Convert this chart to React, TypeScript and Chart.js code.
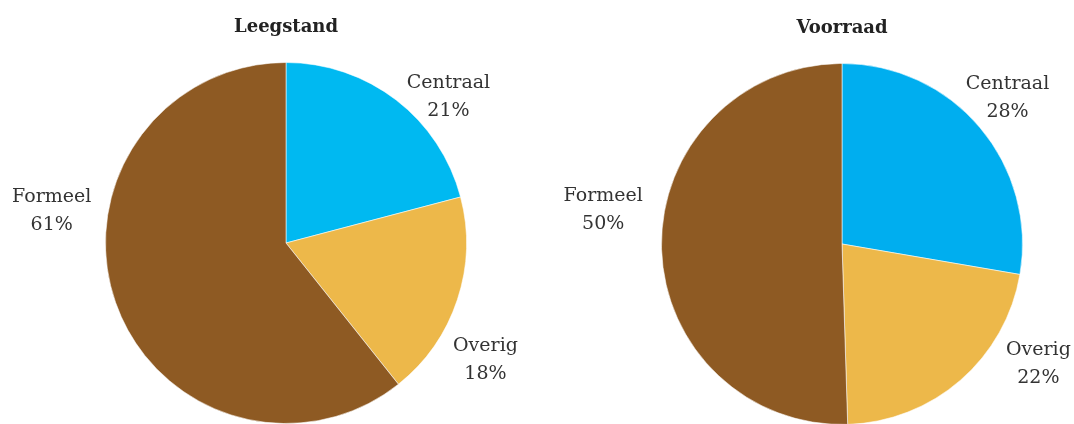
import React, { useEffect, useRef } from "react";
import { Chart, registerables } from "chart.js";

Chart.register(...registerables);

const categories = ["Centraal", "Overig", "Formeel"];
const leegstandValues = [20.9, 18.4, 60.7];
const leegstandLabels = ["21%", "18%", "61%"];
const voorraadValues = [27.7, 21.8, 50.5];
const voorraadLabels = ["28%", "22%", "50%"];

const FONT = "'DejaVu Serif', serif";

const pieLabelsPlugin = {
  id: "pieLabels",
  afterDatasetsDraw(chart: any, _args: any, opts: any) {
    const meta = chart.getDatasetMeta(0);
    const ctx = chart.ctx;
    ctx.save();
    ctx.font = `${opts.size}px ${FONT}`;
    ctx.fillStyle = opts.color;
    ctx.textAlign = "center";
    ctx.textBaseline = "middle";
    meta.data.forEach((arc: any, i: number) => {
      const p = arc.getProps(["x", "y", "outerRadius"], true);
      const [fx, fy] = opts.offsets[i];
      const cx = p.x + fx * p.outerRadius;
      const cy = p.y + fy * p.outerRadius;
      ctx.fillText(chart.data.labels[i], cx, cy - opts.lineGap / 2);
      ctx.fillText(opts.texts[i], cx, cy + opts.lineGap / 2);
    });
    ctx.restore();
  },
};

function PieChart(props: {
  title: string;
  values: number[];
  texts: string[];
  colors: string[];
  offsets: number[][];
  left: number;
  width: number;
  height: number;
  titleTop: number;
}) {
  const ref = useRef<HTMLCanvasElement | null>(null);
  useEffect(() => {
    if (!ref.current) return;
    const chart = new Chart(ref.current, {
      type: "pie",
      data: {
        labels: categories,
        datasets: [
          {
            data: props.values,
            backgroundColor: props.colors,
            borderColor: "rgba(255,255,255,0.55)",
            borderWidth: 1,
          },
        ],
      },
      options: {
        responsive: false,
        animation: false,
        devicePixelRatio: 1,
        layout: { padding: 0 },
        plugins: {
          legend: { display: false },
          tooltip: { enabled: false },
          title: {
            display: true,
            text: props.title,
            color: "#222",
            font: { family: FONT, size: 18, weight: "bold", lineHeight: 22 / 18 },
            padding: { top: props.titleTop, bottom: 24 },
          },
          pieLabels: {
            size: 19,
            color: "#333",
            lineGap: 28,
            offsets: props.offsets,
            texts: props.texts,
          },
        } as any,
      },
      plugins: [pieLabelsPlugin],
    });
    return () => chart.destroy();
  }, []);
  return (
    <canvas
      ref={ref}
      width={props.width}
      height={props.height}
      style={{ position: "absolute", left: props.left, top: 0, width: props.width, height: props.height }}
    />
  );
}

export default function App() {
  return (
    <div
      style={{
        position: "absolute",
        left: 0,
        top: 0,
        width: 1074,
        height: 424,
        overflow: "hidden",
        background: "#fff",
      }}
    >
      <PieChart
        title="Leegstand"
        values={leegstandValues}
        texts={leegstandLabels}
        colors={["#00B9F1", "#EDB84A", "#8E5A23"]}
        offsets={[
          [0.9, -0.81],
          [1.105, 0.646],
          [-1.298, -0.177],
        ]}
        left={0}
        width={572}
        height={424}
        titleTop={16}
      />
      <PieChart
        title="Voorraad"
        values={voorraadValues}
        texts={voorraadLabels}
        colors={["#00AEEF", "#EDB84A", "#8E5A23"]}
        offsets={[
          [0.917, -0.807],
          [1.088, 0.663],
          [-1.323, -0.188],
        ]}
        left={530}
        width={624}
        height={425}
        titleTop={17}
      />
    </div>
  );
}
